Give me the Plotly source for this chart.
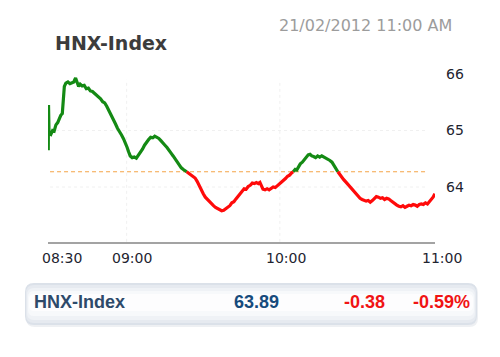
import pandas as pd
import plotly.graph_objects as go

# ---------------- data ----------------
title_text = "HNX-Index"
date_text = "21/02/2012 11:00 AM"
base_day = "2012-02-21 08:00"
ref_value = 64.27          # previous close (dashed line)
last_value = "63.89"
change_text = "-0.38"
pct_text = "-0.59%"

# minutes after 08:00
minutes = [29.3, 29.4, 29.6, 30.3, 31.0, 31.6, 32.3, 33.0, 33.6, 34.2, 34.8, 35.2, 35.6, 36.2, 37.0,
           37.8, 38.6, 39.3, 40.0, 40.6, 41.2, 41.8, 42.6, 43.4, 44.2, 45.0, 45.8, 46.6, 47.4, 48.2,
           49.0, 49.8, 50.6, 51.4, 52.2, 52.8, 53.6, 54.2, 55.0, 55.6, 56.4, 57.2, 58.0, 58.8, 59.6,
           60.2, 60.8, 61.4, 62.2, 63.0, 63.8, 64.6, 65.4, 66.2, 67.0, 67.8, 68.6, 69.4, 70.2, 71.0,
           71.8, 72.6, 73.4, 74.2, 75.0, 75.8, 76.6, 77.4, 78.2, 79.0, 79.8, 80.6, 81.4, 82.2, 83.0,
           83.5, 84.4, 85.2, 86.0, 86.8, 87.6, 88.4, 89.2, 90.0, 90.8, 91.6, 92.4, 93.2, 94.0, 94.8,
           95.6, 96.4, 97.2, 98.0, 98.8, 99.6, 100.4, 101.2, 102.0, 102.8, 103.6, 104.4, 105.2, 106.0,
           106.8, 107.6, 108.4, 109.2, 110.0, 110.8, 111.6, 112.2, 112.8, 113.4, 114.2, 115.0, 115.8,
           116.6, 117.4, 118.2, 119.0, 119.8, 120.6, 121.4, 122.2, 123.0, 123.8, 124.6, 125.2, 126.0,
           126.6, 127.2, 128.0, 128.8, 129.6, 130.4, 131.1, 131.8, 132.5, 133.2, 134.0, 134.8, 135.6,
           136.4, 137.2, 138.0, 138.8, 139.6, 140.4, 141.2, 142.0, 142.7, 143.4, 144.2, 145.0, 145.8,
           146.6, 147.4, 148.2, 149.0, 149.8, 150.6, 151.4, 152.2, 153.0, 153.8, 154.6, 155.4, 156.2,
           157.0, 157.8, 158.6, 159.4, 160.2, 161.0, 161.8, 162.6, 163.4, 164.2, 165.0, 165.8, 166.6,
           167.4, 168.2, 169.0, 169.8, 170.6, 171.4, 172.2, 173.0, 173.8, 174.6, 175.4, 176.2, 177.0,
           177.8, 178.6, 179.4, 180.0, 180.7]
index_values = [64.65, 65.45, 64.95, 64.93, 65.00, 64.99, 65.10, 65.14, 65.22, 65.27, 65.30, 65.50, 65.78, 65.84, 65.86,
                65.83, 65.85, 65.86, 65.93, 65.84, 65.78, 65.82, 65.79, 65.80, 65.74, 65.75, 65.70, 65.69, 65.66, 65.62,
                65.60, 65.56, 65.51, 65.49, 65.43, 65.38, 65.30, 65.24, 65.17, 65.12, 65.04, 64.99, 64.92, 64.85, 64.78,
                64.70, 64.62, 64.55, 64.52, 64.53, 64.51, 64.56, 64.60, 64.67, 64.74, 64.80, 64.84, 64.88, 64.87, 64.90,
                64.88, 64.86, 64.82, 64.77, 64.74, 64.70, 64.66, 64.60, 64.55, 64.50, 64.44, 64.38, 64.34, 64.31, 64.29,
                64.27, 64.24, 64.22, 64.20, 64.16, 64.10, 64.02, 63.96, 63.88, 63.82, 63.78, 63.73, 63.70, 63.67, 63.64,
                63.62, 63.60, 63.58, 63.59, 63.62, 63.64, 63.67, 63.72, 63.74, 63.79, 63.84, 63.88, 63.94, 63.97,
                63.96, 64.01, 64.03, 64.07, 64.06, 64.08, 64.06, 64.08, 64.02, 63.96, 63.95, 63.97, 63.95,
                63.98, 64.00, 63.99, 64.02, 64.05, 64.08, 64.12, 64.15, 64.19, 64.21, 64.25, 64.27, 64.31,
                64.30, 64.36, 64.41, 64.44, 64.49, 64.53, 64.57, 64.58, 64.55, 64.54, 64.52, 64.55, 64.53,
                64.55, 64.53, 64.51, 64.50, 64.47, 64.44, 64.38, 64.32, 64.27, 64.22, 64.18, 64.13, 64.09,
                64.05, 64.00, 63.95, 63.92, 63.87, 63.84, 63.80, 63.78, 63.77, 63.75, 63.76, 63.73, 63.76,
                63.80, 63.83, 63.82, 63.80, 63.81, 63.78, 63.80, 63.79, 63.76, 63.73, 63.71, 63.68, 63.66,
                63.65, 63.67, 63.64, 63.66, 63.68, 63.67, 63.69, 63.68, 63.66, 63.69, 63.70, 63.69, 63.72,
                63.70, 63.74, 63.77, 63.82, 63.88]

x_tick_minutes = [30, 60, 120, 180]
x_tick_labels = ["08:30", "09:00", "10:00", "11:00"]
y_tick_values = [64, 65, 66]

# ---------------- layout helpers ----------------
W, H = 500, 357
L, R, T, B = 48, 65, 70, 115
PW, PH = W - L - R, H - T - B


def px(x):
    return (x - L) / PW


def py(y):
    return (H - B - y) / PH


def to_time(m):
    return pd.Timestamp(base_day) + pd.to_timedelta(m, unit="m")


times = [to_time(m) for m in minutes]
green_y = [v if v >= ref_value else None for v in index_values]
red_y = [v if v <= ref_value else None for v in index_values]

fig = go.Figure()
fig.add_trace(go.Scatter(x=times, y=green_y, mode="lines", connectgaps=False,
                         line=dict(color="#148a14", width=3.2), hoverinfo="skip"))
fig.add_trace(go.Scatter(x=times, y=red_y, mode="lines", connectgaps=False,
                         line=dict(color="#ff0a0a", width=3.2), hoverinfo="skip"))

shapes = []
grid_x0, grid_x1 = to_time(30.0), to_time(177.9)
for v in [64, 65]:
    shapes.append(dict(type="line", xref="x", yref="y", x0=grid_x0, x1=grid_x1, y0=v, y1=v,
                       line=dict(color="#f0f0f0", width=1, dash="dot"), layer="below"))
for m in [60, 120]:
    shapes.append(dict(type="line", xref="x", yref="y", x0=to_time(m), x1=to_time(m), y0=63.03, y1=65.9,
                       line=dict(color="#f0f0f0", width=1, dash="dot"), layer="below"))
shapes.append(dict(type="line", xref="x", yref="y", x0=grid_x0, x1=grid_x1, y0=ref_value, y1=ref_value,
                   line=dict(color="#f4a447", width=1, dash="4px,3px"), layer="below"))


def rounded(x0, y0, x1, y1, r):
    # pixel coordinates -> paper path
    pts = [f"M {px(x0 + r)} {py(y0)}", f"L {px(x1 - r)} {py(y0)}",
           f"Q {px(x1)} {py(y0)} {px(x1)} {py(y0 + r)}", f"L {px(x1)} {py(y1 - r)}",
           f"Q {px(x1)} {py(y1)} {px(x1 - r)} {py(y1)}", f"L {px(x0 + r)} {py(y1)}",
           f"Q {px(x0)} {py(y1)} {px(x0)} {py(y1 - r)}", f"L {px(x0)} {py(y0 + r)}",
           f"Q {px(x0)} {py(y0)} {px(x0 + r)} {py(y0)}", "Z"]
    return " ".join(pts)


bar_layers = [
    ((26, 284, 478, 327, 9), "#eef0f3"),   # soft shadow
    ((25, 283, 477, 325, 9), "#dbe1e9"),
    ((26, 285, 476, 323, 8), "#e6eaf0"),
    ((27, 288, 475, 320, 7), "#eff2f6"),
    ((28, 291, 474, 316, 6), "#f7f9fb"),
    ((29, 294, 473, 311, 5), "#fdfdfe"),
]
for (x0, y0, x1, y1, r), col in bar_layers:
    shapes.append(dict(type="path", xref="paper", yref="paper", path=rounded(x0, y0, x1, y1, r),
                       fillcolor=col, line=dict(width=0), layer="below"))

ann = []
ann.append(dict(text=title_text, x=px(53), y=py(43), xref="paper", yref="paper", xanchor="left",
                yanchor="middle", showarrow=False,
                font=dict(family="DejaVu Sans", size=19, color="#3c3c3c", weight="bold")))
ann.append(dict(text=date_text, x=px(277), y=py(25), xref="paper", yref="paper", xanchor="left",
                yanchor="middle", showarrow=False,
                font=dict(family="DejaVu Sans", size=16, color="#9c9c9c")))
label_shift = [12, 5, 6, 9]
for m, lab, sh in zip(x_tick_minutes, x_tick_labels, label_shift):
    ann.append(dict(text=lab, x=to_time(m), y=py(258), xref="x", yref="paper", xanchor="center",
                    yanchor="middle", xshift=sh, showarrow=False,
                    font=dict(family="DejaVu Sans", size=14, color="#1e2430")))
bar_y = py(302)
ann.append(dict(text=title_text, x=px(32), y=bar_y, xref="paper", yref="paper", xanchor="left",
                yanchor="middle", showarrow=False,
                font=dict(family="Liberation Sans", size=18, color="#2e4a6a", weight="bold")))
ann.append(dict(text=last_value, x=px(256.5), y=bar_y, xref="paper", yref="paper", xanchor="center",
                yanchor="middle", showarrow=False,
                font=dict(family="Liberation Sans", size=18, color="#164b7c", weight="bold")))
ann.append(dict(text=change_text, x=px(364.5), y=bar_y, xref="paper", yref="paper", xanchor="center",
                yanchor="middle", showarrow=False,
                font=dict(family="Liberation Sans", size=18, color="#f01414", weight="bold")))
ann.append(dict(text=pct_text, x=px(441.5), y=bar_y, xref="paper", yref="paper", xanchor="center",
                yanchor="middle", showarrow=False,
                font=dict(family="Liberation Sans", size=18, color="#f01414", weight="bold")))

fig.update_layout(
    width=W, height=H, margin=dict(l=L, r=R, t=T, b=B),
    paper_bgcolor="white", plot_bgcolor="white", showlegend=False,
    shapes=shapes, annotations=ann,
    xaxis=dict(type="date", range=[to_time(29.2), to_time(180.75)], showgrid=False, zeroline=False,
               showticklabels=False, ticks="", showline=True, linecolor="#a3a3a3", linewidth=2),
    yaxis=dict(range=[63.027, 66.071], side="right", tickvals=y_tick_values, showgrid=False,
               zeroline=False, showline=False, ticks="", ticklabelstandoff=10,
               tickfont=dict(family="DejaVu Sans", size=14, color="#1e2430")),
)

fig.write_html("out.html")
